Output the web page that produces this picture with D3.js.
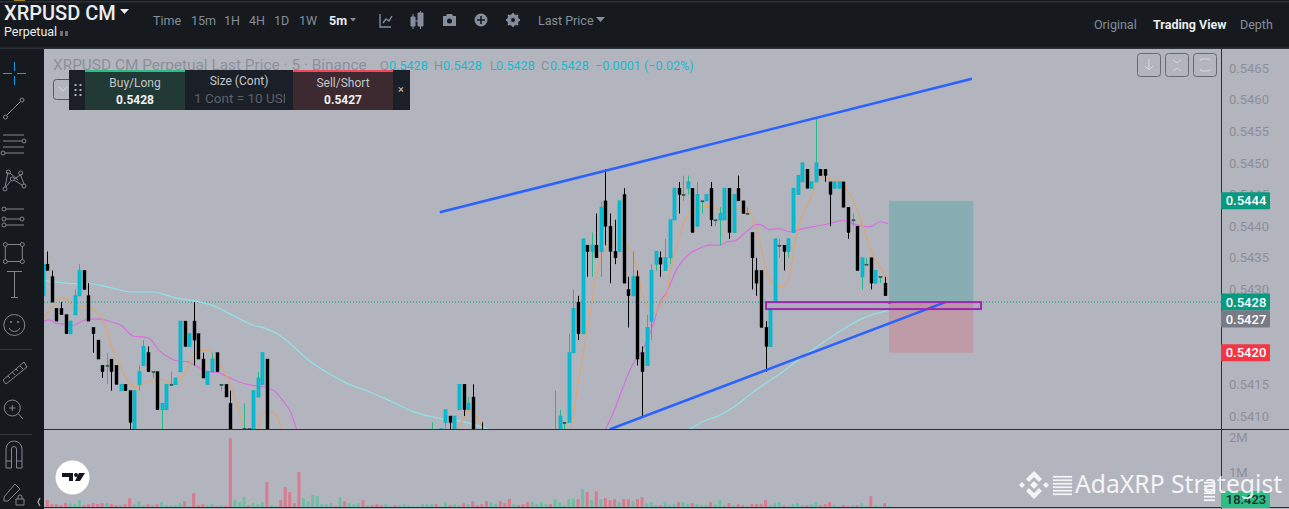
<!DOCTYPE html>
<html lang="en">
<head>
<meta charset="UTF-8">
<title>XRPUSD CM Perpetual</title>
<style>
  html, body { margin: 0; padding: 0; background: #161a1e; overflow: hidden; }
  svg { display: block; }
  text { font-family: Roboto, "Noto Sans", Arial, sans-serif; }
</style>
<script src="https://d3js.org/d3.v7.min.js"></script>
</head>
<body>
<svg id="chart" width="1289" height="509"></svg>
<script>
// candles that show in the pane: bar index, open, high, low, close
const candles = [
  [-1,.5429,.5434,.5429,.5434],[0,.5434,.5436,.5433,.5433],[1,.5432,.5433,.5428,.5428],[2,.5427,.5427,.5425,.5425],
  [3,.5427,.5428,.5426,.5426],[4,.5426,.5426,.5423,.5423],[5,.5423,.5425,.5423,.5425],[6,.5426,.5430,.5426,.5429],
  [7,.5429,.5434,.5429,.5433],[8,.5433,.5433,.5430,.5430],[9,.5429,.5431,.5425,.5425],[10,.5424,.5424,.5420,.5423],
  [11,.5422,.5422,.5419,.5419],[12,.5418,.5418,.5416,.5417],[13,.5418,.5420,.5415,.5418],[14,.5419,.5419,.5414,.5417],
  [15,.5418,.5418,.5415,.5415],[16,.5414,.5415,.5414,.5415],[17,.5415,.5415,.5414,.5414],[18,.5414,.5414,.5407,.5409],
  [19,.5407,.5414,.5407,.5414],[20,.5415,.5418,.5414,.5417],[21,.5418,.5422,.5418,.5421],[22,.5420,.5421,.5417,.5417],
  [23,.5417,.5417,.5416,.5417],[24,.5417,.5417,.5411,.5411],[25,.5411,.5412,.5407,.5412],[26,.5411,.5415,.5411,.5415],
  [27,.5415,.5417,.5415,.5415],[28,.5415,.5416,.5415,.5416],[29,.5417,.5425,.5417,.5425],[30,.5425,.5425,.5421,.5421],
  [31,.5421,.5423,.5421,.5423],[32,.5425,.5428,.5418,.5422],[33,.5423,.5423,.5419,.5419],[34,.5419,.5420,.5416,.5416],
  [35,.5415,.5417,.5415,.5417],[36,.5417,.5420,.5417,.5419],[37,.5420,.5420,.5417,.5417],[38,.5415,.5415,.5414,.5415],
  [39,.5415,.5415,.5413,.5413],[40,.5412,.5414,.5405,.5405],[43,.5408,.5412,.5407,.5408],[44,.5408,.5408,.5407,.5408],
  [45,.5406,.5414,.5406,.5414],[46,.5413,.5417,.5413,.5416],[47,.5415,.5420,.5415,.5420],[48,.5419,.5419,.5404,.5404],
  [84,.5407,.5409,.5407,.5407],[86,.5407,.5408,.5407,.5408],[87,.5409,.5411,.5408,.5411],[88,.5410,.5410,.5407,.5409],
  [89,.5407,.5410,.5407,.5410],[90,.5411,.5415,.5411,.5415],[91,.5415,.5415,.5410,.5411],[92,.5411,.5413,.5411,.5412],
  [93,.5413,.5415,.5406,.5406],[95,.5406,.5409,.5405,.5405],[111,.5406,.5414,.5406,.5407],[112,.5407,.5411,.5407,.5410],
  [113,.5409,.5409,.5407,.5409],[114,.5409,.5423,.5409,.5420],[115,.5420,.5430,.5420,.5427],[116,.5428,.5429,.5422,.5423],
  [117,.5423,.5438,.5423,.5438],[118,.5437,.5437,.5432,.5436],[119,.5436,.5439,.5432,.5437],[120,.5437,.5442,.5435,.5435],
  [121,.5436,.5444,.5432,.5443],[122,.5444,.5449,.5437,.5440],[123,.5440,.5442,.5431,.5436],[124,.5436,.5441,.5434,.5435],
  [125,.5436,.5444,.5436,.5444],[126,.5445,.5446,.5431,.5431],[127,.5430,.5432,.5424,.5429],[128,.5429,.5436,.5429,.5432],
  [129,.5432,.5433,.5418,.5419],[130,.5420,.5421,.5410,.5417],[131,.5418,.5426,.5418,.5424],[132,.5425,.5434,.5422,.5433],
  [133,.5434,.5436,.5433,.5436],[134,.5435,.5436,.5432,.5434],[135,.5433,.5438,.5433,.5435],[136,.5435,.5441,.5434,.5441],
  [137,.5441,.5446,.5441,.5446],[138,.5446,.5447,.5442,.5445],[139,.5445,.5448,.5444,.5445],[140,.5446,.5448,.5445,.5447],
  [141,.5446,.5446,.5439,.5439],[142,.5440,.5447,.5440,.5445],[143,.5444,.5444,.5442,.5444],[144,.5444,.5445,.5444,.5445],
  [145,.5446,.5447,.5440,.5441],[146,.5441,.5441,.5440,.5441],[147,.5441,.5443,.5437,.5442],[148,.5441,.5446,.5441,.5446],
  [149,.5446,.5446,.5438,.5439],[150,.5439,.5445,.5439,.5445],[151,.5446,.5448,.5444,.5444],[152,.5444,.5444,.5442,.5442],
  [153,.5442,.5443,.5442,.5442],[154,.5439,.5439,.5430,.5435],[155,.5433,.5435,.5429,.5431],[156,.5433,.5433,.5424,.5424],
  [157,.5424,.5425,.5417,.5421],[158,.5421,.5427,.5421,.5427],[159,.5428,.5438,.5428,.5438],[160,.5437,.5438,.5435,.5437],
  [161,.5437,.5437,.5433,.5436],[162,.5436,.5438,.5435,.5438],[163,.5439,.5446,.5439,.5446],[164,.5445,.5448,.5445,.5448],
  [165,.5447,.5450,.5447,.5450],[166,.5449,.5449,.5446,.5446],[167,.5446,.5447,.5446,.5447],[168,.5447,.5457,.5447,.5450],
  [169,.5449,.5449,.5448,.5448],[170,.5449,.5449,.5447,.5448],[171,.5447,.5447,.5440,.5445],[172,.5446,.5447,.5446,.5447],
  [173,.5446,.5447,.5446,.5447],[174,.5447,.5447,.5443,.5443],[175,.5443,.5443,.5438,.5439],[176,.5441,.5442,.5440,.5441],
  [177,.5440,.5440,.5433,.5433],[178,.5432,.5435,.5430,.5435],[179,.5434,.5435,.5434,.5434],[180,.5435,.5435,.5430,.5431],
  [181,.5431,.5433,.5431,.5433],[182,.5432,.5432,.5431,.5432],[183,.5431,.5432,.5429,.5429],[184,.5428,.5428,.5428,.5428]
];

// moving averages, [bar index, price]. the dips under the pane are guesses
const maFast = [
  [-0.7,.54256],[1.1,.54273],[3.1,.54287],[4.4,.54284],[6.2,.5427],[8.4,.54274],[9.8,.5427],[11.1,.54263],[13.1,.54236],
  [14.2,.54207],[15.7,.54183],[18.1,.54151],[19.7,.54146],[21.1,.54151],[23,.54156],[25.1,.54158],[27.3,.54151],[29.9,.54165],
  [32.1,.54196],[33.2,.54203],[35.2,.54204],[36.8,.54188],[39.3,.54162],[41.2,.54125],[43.4,.54079],[45.9,.54077],[47,.54103],
  [48.8,.54107],[50.3,.54099],[51.4,.54077],[70,.5395],[89.5,.54079],[91,.54096],[92,.54109],[93.5,.54102],[95.3,.54081],
  [105,.5395],[114.4,.54079],[116.1,.54157],[118.3,.54246],[120.1,.54325],[121.5,.54357],[123,.54375],[124.1,.5437],[125.6,.54381],
  [127,.54367],[128.1,.54352],[129.2,.54325],[129.9,.54296],[131.7,.5427],[132.8,.54262],[134.3,.54281],[135.2,.54286],[136.1,.54325],
  [137.9,.54378],[139.4,.54409],[140.8,.54424],[143.4,.54431],[145.6,.54431],[147.4,.54423],[149.9,.54427],[153.2,.54425],[154.3,.54412],
  [155.8,.54373],[157.6,.5432],[159,.54307],[160.5,.54304],[162,.54315],[163.4,.54373],[164.9,.54417],[166.7,.54441],[168.5,.54475],
  [169.6,.54478],[171.8,.54473],[173.6,.5447],[175.1,.54454],[176.9,.54428],[178.3,.54399],[179.8,.54365],[182,.54336],[183.8,.54317]
];
const maMid = [
  [-0.7,.5425],[0.4,.54252],[1.8,.54247],[3.6,.54245],[5.5,.54243],[7.3,.54249],[9.5,.54253],[11.7,.54253],[13.8,.54249],[16,.54244],
  [18.9,.54226],[21.1,.54225],[22.6,.54221],[24.4,.54204],[26.2,.54194],[28.4,.54187],[30.6,.54186],[32.8,.54178],[35,.5417],[37.2,.54169],
  [39.3,.54162],[42.3,.54153],[45.2,.54148],[47.4,.54146],[49.9,.54138],[51.4,.54125],[53.2,.54106],[54.6,.54078],[90,.5385],[122,.54079],
  [124.1,.54112],[125.6,.54141],[127.7,.54178],[130.3,.54207],[132.5,.54246],[133.9,.54279],[135.4,.54296],[137.5,.54331],[140.5,.54357],
  [142.6,.54365],[144.8,.5437],[147,.5437],[148.5,.54375],[150.3,.54377],[152.8,.54391],[155,.54403],[156.1,.54402],[157.6,.54395],[159.8,.54396],
  [162.3,.54391],[164.5,.54395],[167.4,.54399],[170.3,.54403],[174,.54409],[176.9,.54402],[179.8,.54399],[182,.54407],[183.8,.54404]
];
const maSlow = [
  [-0.7,.54314],[2.9,.54311],[6.6,.54309],[9.5,.54309],[13.1,.54304],[18.6,.54296],[23,.54296],[28.4,.54286],[32.1,.54282],[36.4,.54274],
  [40.8,.54258],[45.2,.54243],[47,.5424],[51.7,.54223],[53,.54215],[56.7,.54191],[61.8,.54166],[65.4,.54152],[69.8,.5414],[74.9,.54124],
  [80,.54107],[85.8,.54096],[90.9,.54091],[96.4,.54079],[118,.54],[140.3,.54079],[143.8,.54093],[146.3,.54099],[150,.54114],[154.3,.54138],
  [160.2,.54167],[165.2,.54194],[170.4,.5422],[174.8,.54241],[179.1,.54257],[183.8,.54267]
];

// volume per bar in thousands, with the colour of the bar: u up, d down
const volumes = [
  210,95,95,67,124,124,95,210,67,95, 124,95,124,124,95,67,67,95,267,95, 181,67,95,67,95,152,67,67,67,124,
  181,38,409,67,95,67,95,38,67,38, 1980,210,152,295,67,124,95,152,724,67, 38,210,581,438,124,1010,267,181,352,324,
  95,95,124,38,295,181,124,95,124,210, 67,67,95,67,95,38,67,67,95,67, 38,38,95,95,95,95,38,152,67,95,
  67,124,95,181,67,95,181,152,95,181, 124,238,95,67,95,152,152,95,152,95, 95,238,152,67,238,267,238,524,438,210,
  466,238,267,210,238,152,238,238,181,238, 295,124,152,67,67,152,67,95,152,152, 95,124,95,67,67,152,95,210,67,124,
  67,95,67,38,95,95,95,210,67,124, 152,67,38,95,124,67,67,95,152,67, 95,152,67,38,67,38,67,67,124,38, 324,67,38,124,38
];
const volumeDirs = [
  "ddddduuudd", "dddudduddu", "uududuuuuu", "duddduudud", "duuuduuudu", "uddddduuuu", "uuududuuud", "uddduuduuu", "uuuuuduudu",
  "ududddduud", "dduddduuuu", "duuuuududu", "duddduddud", "duuuduuudu", "uduuuduuud", "uddudddduu", "uduuuuduud", "dduudduduu", "duudu"
].join("").split("");

const priceTicks = [.5465, .5460, .5455, .5450, .5445, .5440, .5435, .5430, .5415, .5410];
const volumeTicks = [1000, 2000];
const intervals = ["Time", "15m", "1H", "4H", "1D", "1W"];
const sellPrice = .5427, lastPrice = .5428, targetPrice = .5444, stopPrice = .5420;

// drawings on the chart, [bar index, price]
const channelTop = [[85.8, .54422], [202.1, .54633]];
const channelBottom = [[123, .54079], [196.3, .5428]];
const positionBars = [184, 202.4];
const zoneBars = [157.1, 204.1];
const zonePrices = [.5428, .54269];

const svg = d3.select("#chart");
const bg = "#161a1e", pane = "#b2b5be", border = "#2a2e39";
const up = "#00bfdc", upEdge = "#0fb0bb", upWick = "#26b98a";

const x = d3.scaleLinear().domain([0, 184]).range([47.3, 889.1]);
const y = d3.scaleLinear().domain([.5410, .5465]).range([416, 68]);
const yVol = d3.scaleLinear().domain([0, 2000]).range([507.5, 437.5]);

svg.append("rect").attr("width", 1289).attr("height", 509).attr("fill", bg);
svg.append("rect").attr("x", 44).attr("y", 49).attr("width", 1245).attr("height", 460).attr("fill", pane);

const defs = svg.append("defs");
defs.append("clipPath").attr("id", "priceClip").append("rect")
  .attr("x", 44).attr("y", 49).attr("width", 1177).attr("height", 380);

// price pane
const price = svg.append("g").attr("clip-path", "url(#priceClip)");

price.append("rect").attr("x", x(positionBars[0])).attr("y", y(targetPrice))
  .attr("width", x(positionBars[1]) - x(positionBars[0])).attr("height", y(lastPrice) - y(targetPrice))
  .attr("fill", "#3a9e9e").attr("opacity", .35);
price.append("rect").attr("x", x(positionBars[0])).attr("y", y(lastPrice))
  .attr("width", x(positionBars[1]) - x(positionBars[0])).attr("height", y(stopPrice) - y(lastPrice))
  .attr("fill", "#f23645").attr("opacity", .2);

price.append("line").attr("x1", 44).attr("x2", 1221).attr("y1", y(lastPrice)).attr("y2", y(lastPrice))
  .attr("stroke", "#089981").attr("stroke-width", 1).attr("stroke-dasharray", "1 2");

const maLine = d3.line().x(d => x(d[0])).y(d => y(d[1])).curve(d3.curveMonotoneX);
[[maSlow, "#8fe3e6"], [maMid, "#d96ee0"], [maFast, "#dfa56f"]].forEach(([data, color]) => {
  price.append("path").attr("d", maLine(data)).attr("fill", "none").attr("stroke", color).attr("stroke-width", 1.2);
});

price.selectAll("line.wick").data(candles).enter().append("line").attr("class", "wick")
  .attr("x1", d => Math.round(x(d[0])) + .5).attr("x2", d => Math.round(x(d[0])) + .5)
  .attr("y1", d => y(d[2])).attr("y2", d => y(d[3]))
  .attr("stroke", d => d[4] >= d[1] ? upWick : "#000").attr("stroke-width", 1);

price.selectAll("rect.body").data(candles).enter().append("rect").attr("class", "body")
  .attr("x", d => Math.round(x(d[0])) - 1)
  .attr("width", 3)
  .attr("y", d => y(Math.max(d[1], d[4])))
  .attr("height", d => Math.max(1, Math.abs(y(d[1]) - y(d[4]))))
  .attr("fill", d => d[4] > d[1] ? up : d[4] === d[1] ? upWick : "#000")
  .attr("stroke", d => d[4] > d[1] ? upEdge : "#000")
  .attr("stroke-width", d => d[4] > d[1] ? .8 : .4);

[channelTop, channelBottom].forEach(l => {
  price.append("line").attr("x1", x(l[0][0])).attr("y1", y(l[0][1])).attr("x2", x(l[1][0])).attr("y2", y(l[1][1]))
    .attr("stroke", "#2962ff").attr("stroke-width", 2.5);
});

price.append("rect").attr("x", x(zoneBars[0])).attr("y", y(zonePrices[0]))
  .attr("width", x(zoneBars[1]) - x(zoneBars[0])).attr("height", y(zonePrices[1]) - y(zonePrices[0]))
  .attr("fill", "#9c27b0").attr("fill-opacity", .07).attr("stroke", "#9c27b0").attr("stroke-width", 2);

// volume pane
svg.selectAll("rect.vol").data(volumes).enter().append("rect").attr("class", "vol")
  .attr("x", (d, i) => x(i) - 1.5).attr("width", 3)
  .attr("y", d => yVol(d)).attr("height", d => yVol(0) - yVol(d))
  .attr("fill", (d, i) => volumeDirs[i] === "u" ? "#70bda6" : "#d97b8e");

// pane borders
svg.append("line").attr("x1", 44).attr("x2", 1289).attr("y1", 429.5).attr("y2", 429.5).attr("stroke", border);
svg.append("line").attr("x1", 44).attr("x2", 1289).attr("y1", 507.5).attr("y2", 507.5).attr("stroke", border);
svg.append("line").attr("x1", 1221.5).attr("x2", 1221.5).attr("y1", 49).attr("y2", 509).attr("stroke", border);

// axes
const axisPrice = d3.axisRight(y).tickValues(priceTicks).tickFormat(d3.format(".4f")).tickSize(0).tickPadding(8);
const gPrice = svg.append("g").attr("transform", "translate(1221,0)").call(axisPrice);
const axisVol = d3.axisRight(yVol).tickValues(volumeTicks).tickFormat(d => d / 1000 + "M").tickSize(0).tickPadding(8);
const gVol = svg.append("g").attr("transform", "translate(1221,0)").call(axisVol);
[gPrice, gVol].forEach(g => {
  g.select(".domain").remove();
  g.selectAll("text").attr("font-size", 13).attr("fill", "#8b8f9a").style("font-family", "Roboto, sans-serif");
});

function tag(cy, text, color, textColor) {
  svg.append("rect").attr("x", 1221).attr("y", cy - 8.5).attr("width", 49).attr("height", 17).attr("rx", 1).attr("fill", color);
  svg.append("text").attr("x", 1246).attr("y", cy + 4.5).attr("text-anchor", "middle")
    .attr("font-size", 13).attr("font-weight", 500).attr("fill", textColor || "#fff").text(text);
}
tag(y(targetPrice), d3.format(".4f")(targetPrice), "#089981");
tag(y(lastPrice), d3.format(".4f")(lastPrice), "#089981");
// the sell tag sits right below the last price tag
tag(y(lastPrice) + 17, d3.format(".4f")(sellPrice), "#787b86");
tag(y(stopPrice), d3.format(".4f")(stopPrice), "#f23645");
tag(499.5, "18:423", "#2ebd85", "#1c2a2a");

// legend line
function label(sel, tx, ty, s, size, color, weight, anchor) {
  return sel.append("text").attr("x", tx).attr("y", ty).attr("font-size", size).attr("fill", color)
    .attr("font-weight", weight || 400).attr("text-anchor", anchor || "start").text(s);
}
label(svg, 53, 70, "XRPUSD CM Perpetual Last Price · 5 · Binance", 15.4, "#8d909a");
const legendTeal = "#12bcd0";
[[380, "O", 389], [434, "H", 443], [490, "L", 496], [541, "C", 550]].forEach(([a, k, b]) => {
  label(svg, a, 70, k, 12.6, "#8d909a");
  label(svg, b, 70, "0.5428", 12.6, legendTeal);
});
label(svg, 595, 70, "−0.0001 (−0.02%)", 12.6, legendTeal);

// pane buttons top right
[1137, 1165, 1193].forEach(bx => {
  svg.append("rect").attr("x", bx + .5).attr("y", 53.5).attr("width", 23).attr("height", 23).attr("rx", 3)
    .attr("fill", "none").attr("stroke", "#666a75");
});
svg.append("path").attr("d", "M1149 59v11M1145 66l4 4 4-4M1173 60l4 3 4-3M1173 71l4-3 4 3M1200 61a2 2 0 0 1 2-2h6a2 2 0 0 1 2 2M1200 69a2 2 0 0 0 2 2h6a2 2 0 0 0 2-2")
  .attr("fill", "none").attr("stroke", "#d6d8dd").attr("stroke-width", 1);

// trade panel
svg.append("rect").attr("x", 53.5).attr("y", 79.5).attr("width", 20).attr("height", 20).attr("rx", 3).attr("fill", "none").attr("stroke", "#555963");
svg.append("path").attr("d", "M59 87l4 4 4-4").attr("fill", "none").attr("stroke", "#d6d8dd");
svg.append("rect").attr("x", 69).attr("y", 70).attr("width", 341).attr("height", 40).attr("fill", "#1b1f27");
svg.append("rect").attr("x", 85).attr("y", 70).attr("width", 100).attr("height", 40).attr("fill", "#213a36");
svg.append("rect").attr("x", 293).attr("y", 70).attr("width", 100).attr("height", 40).attr("fill", "#3c2a30");
svg.append("rect").attr("x", 85).attr("y", 70).attr("width", 100).attr("height", 2).attr("fill", "#2ebd85");
svg.append("rect").attr("x", 293).attr("y", 70).attr("width", 100).attr("height", 2).attr("fill", "#f6465d");
d3.range(3).forEach(r => [74.5, 79.5].forEach(dx => {
  svg.append("rect").attr("x", dx).attr("y", 84 + r * 5).attr("width", 2).attr("height", 2).attr("fill", "#aeb1b8");
}));
label(svg, 135, 87, "Buy/Long", 12, "#c3c6cc", 400, "middle");
label(svg, 135, 104, "0.5428", 12, "#f0f1f3", 700, "middle");
label(svg, 239, 85, "Size (Cont)", 12, "#c3c6cc", 400, "middle");
defs.append("clipPath").attr("id", "sizeClip").append("rect").attr("x", 190).attr("y", 90).attr("width", 95).attr("height", 20);
label(svg, 194, 103, "1 Cont = 10 USD", 13.5, "#5d616b").attr("clip-path", "url(#sizeClip)");
label(svg, 343, 87, "Sell/Short", 12, "#c3c6cc", 400, "middle");
label(svg, 343, 104, "0.5427", 12, "#f0f1f3", 700, "middle");
label(svg, 401, 93, "×", 11, "#c3c6cc", 400, "middle");

// header
svg.append("rect").attr("width", 1289).attr("height", 1.5).attr("y", 1).attr("fill", "#2b3139");
svg.append("rect").attr("x", 14).attr("width", 11).attr("height", 1).attr("fill", "#a8842a");
svg.append("rect").attr("width", 1289).attr("height", 1.5).attr("y", 47.5).attr("fill", "#2b3139");
label(svg, 4, 20, "XRPUSD CM", 20, "#eaecef", 500);
svg.append("path").attr("d", "M120 9h9l-4.500 5z").attr("fill", "#eaecef");
label(svg, 4, 36, "Perpetual", 12.5, "#eaecef");
svg.append("path").attr("d", "M60 31v5h3v-5zM65 31v5h3v-5z").attr("fill", "#6d7079");

[153, 191, 224, 249, 274, 299].forEach((tx, i) => label(svg, tx, 25, intervals[i], 12.5, "#848e9c"));
label(svg, 329, 25, "5m", 12.5, "#eaecef", 700);
svg.append("path").attr("d", "M350 18h6l-3 3.500zM596 17h9l-4.500 5z").attr("fill", "#848e9c");
label(svg, 538, 25, "Last Price", 12.5, "#848e9c");
label(svg, 1094, 29, "Original", 12.5, "#848e9c");
label(svg, 1153, 29, "Trading View", 12.5, "#eaecef", 700);
label(svg, 1240, 29, "Depth", 12.5, "#848e9c");

svg.append("path").attr("d", "M380 14v13h11M383 23l3-4 3 2 3-5").attr("fill", "none").attr("stroke", "#848e9c").attr("stroke-width", 1.4);
svg.append("path").attr("d", "M411 17h4v9h-4zM418 13h5v13h-5zM413 14v3M413 26v3M420.500 11v2M420.500 26v3M415 21h3").attr("fill", "#848e9c").attr("stroke", "#848e9c");
svg.append("path").attr("d", "M443 16h3l1-2h5l1 2h3v10h-13z").attr("fill", "#848e9c");
svg.append("circle").attr("cx", 449.5).attr("cy", 21).attr("r", 2.5).attr("fill", bg);
svg.append("circle").attr("cx", 481).attr("cy", 20).attr("r", 6.5).attr("fill", "#848e9c");
svg.append("path").attr("d", "M481 16v8M477 20h8").attr("stroke", bg).attr("stroke-width", 1.6);
svg.append("circle").attr("cx", 513).attr("cy", 20).attr("r", 4.5).attr("fill", "none").attr("stroke", "#848e9c").attr("stroke-width", 3);
svg.append("path").attr("d", "M513 13v14M506 20h14M508 15l10 10M518 15l-10 10").attr("stroke", "#848e9c").attr("stroke-width", 1.8);
svg.append("circle").attr("cx", 513).attr("cy", 20).attr("r", 2).attr("fill", bg);

// left toolbar
svg.append("rect").attr("y", 49).attr("width", 44).attr("height", 460).attr("fill", bg);
svg.append("path").attr("d", "M3 73.500h9M17 73.500h9M14.500 62v9M14.500 76v9").attr("stroke", "#1e9be8").attr("stroke-width", 1).attr("fill", "none");

const tool = svg.append("g").attr("fill", "none").attr("stroke", "#82868f").attr("stroke-width", 1);
const toolPaths = [
  "M7 115L20 102",
  "M3 135h21M3 141h19M3 147h21M5 153h19",
  "M8 172L5 187M10 173L18 180M22 174L14 179M20.500 175L24 184M10.500 181L6 187M14 180L22 185",
  "M6 209h18M6 219h14M6 225h18",
  "M7.300 244.500h13M22.300 246.500v13M7.300 261.500h13M5.300 246.500v13",
  "M7 271.500h15M14.500 271.500v26M11 297.500h7",
  "M3 380L24 362L27 367L6 384ZM8 376l2 2M12 372l3 3M16 369l2 2M20 366l3 3",
  "M18.500 414L23 419M12.300 405v6M9.300 408h6",
  "M6 468v-19a8 8 0 0 1 16 0v19h-5.500v-19a2.500 2.500 0 0 0-5 0v19zM6 461h5.500M16.500 461h5.500",
  "M4 497L15 484L20 489L8 501H4ZM16 499h8v6h-8ZM18 499v-2a2 2 0 0 1 4 0v2"
];
toolPaths.forEach(d => tool.append("path").attr("d", d));
[[5.5, 117], [22, 100], [24, 141], [3, 153], [8.3, 172], [20.7, 173], [12.3, 179], [5, 189], [24, 186], [4, 209], [4, 219], [22, 219], [4, 225],
 [5.3, 244.5], [22.3, 244.5], [5.3, 261.5], [22.3, 261.5]].forEach(c => {
  tool.append("circle").attr("cx", c[0]).attr("cy", c[1]).attr("r", 2);
});
tool.append("circle").attr("cx", 14.3).attr("cy", 325).attr("r", 10.5);
tool.append("path").attr("d", "M9 328a6 6 0 0 0 11 0");
svg.append("circle").attr("cx", 11).attr("cy", 322).attr("r", 1).attr("fill", "#82868f");
svg.append("circle").attr("cx", 18).attr("cy", 322).attr("r", 1).attr("fill", "#82868f");
tool.append("circle").attr("cx", 12.3).attr("cy", 408).attr("r", 8);
svg.append("path").attr("d", "M0 349.500h32M0 434.500h32").attr("stroke", "#33373f");
svg.append("path").attr("d", "M40 498l-2 4 2 4").attr("stroke", "#aeb1b8").attr("fill", "none").attr("stroke-width", 1.2);

// TradingView badge
svg.append("circle").attr("cx", 72.5).attr("cy", 477.5).attr("r", 17).attr("fill", "#fff");
svg.append("path").attr("d", "M62 473h11v8h-4v-4h-7zM76 473a2 2 0 1 0 .1 0zM79 473h6l-5 8h-5z").attr("fill", "#131722");

// watermark
const mark = svg.append("g").attr("fill", "#fff").attr("opacity", .85);
mark.append("path").attr("d", "M1034 471l8 8-3 3-5-5-5 5-3-3zM1034 499l8-8-3-3-5 5-5-5-3 3zM1034 481l4 4-4 4-4-4zM1022 482l3 3-3 3-3-3zM1046 482l3 3-3 3-3-3z");
mark.append("text").attr("x", 1075).attr("y", 493).attr("font-size", 24.7).style("font-family", "'Noto Sans', sans-serif").text("AdaXRP Strategist");
// the noisy glyph blocks in the watermark
[[1053, 19, 476], [1204, 11, 482]].forEach(([bx, bw, by]) => {
  d3.range(6).forEach(r => {
    mark.append("rect").attr("x", bx).attr("y", by + r * 3.5).attr("width", bw).attr("height", 1.5)
      .attr("stroke", "#fff").attr("stroke-width", .4).attr("stroke-dasharray", "2 1");
  });
});
</script>
</body>
</html>
